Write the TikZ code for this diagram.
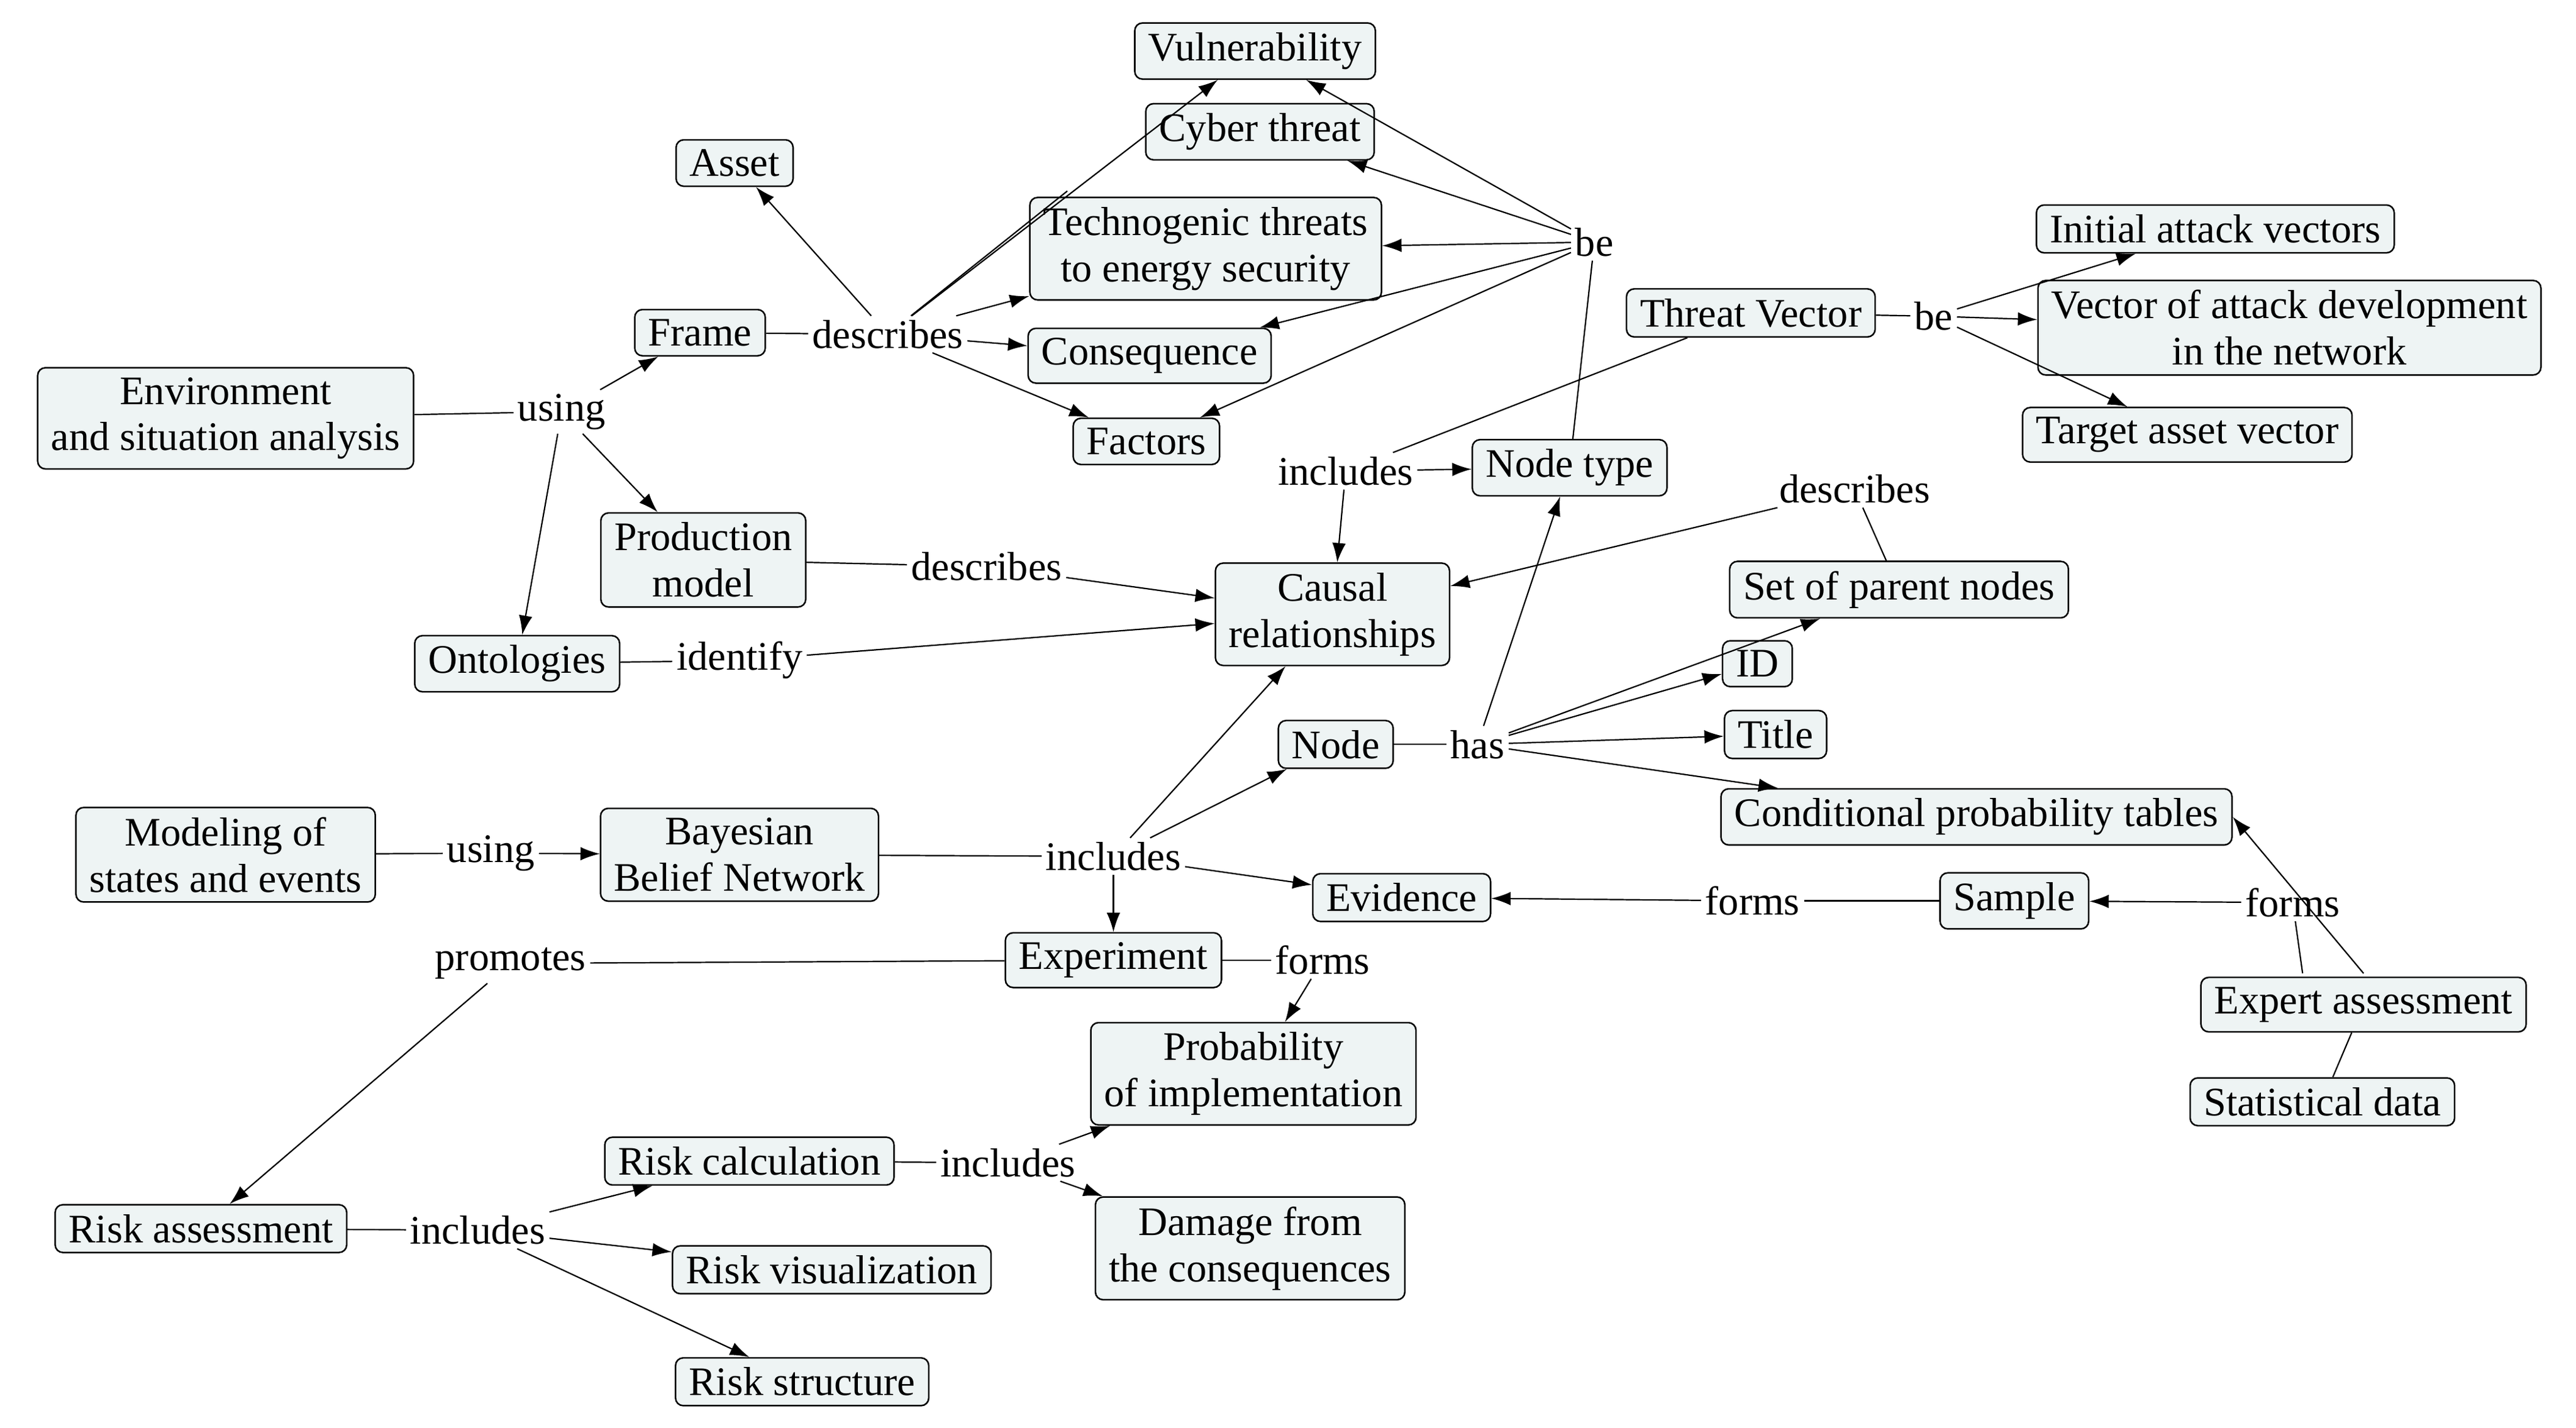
\documentclass[tikz,border=0pt]{standalone}
\usepackage{fontspec}
\setmainfont{Liberation Serif}
\usetikzlibrary{arrows.meta}
\definecolor{boxfill}{HTML}{EEF4F4}
\begin{document}
\begin{tikzpicture}[x=0.03cm,y=-0.03cm,
  font=\fontsize{21}{24}\selectfont,
  box/.style={draw,rounded corners=4pt,fill=boxfill,align=center,inner xsep=7pt,inner ysep=5pt,line width=0.8pt},
  lbl/.style={inner sep=2pt},
  ar/.style={-{Latex[length=10pt,width=7pt]},line width=0.7pt},
  ln/.style={line width=0.7pt}]
\useasboundingbox (0,0) rectangle (1564,867);
\node[box] (vul) at (762,31) {Vulnerability};
\node[box] (cyb) at (765,80) {Cyber threat};
\node[box] (asset) at (446,99) {Asset};
\node[box] (tech) at (732,151) {Technogenic threats\\to energy security};
\node[box] (init) at (1345,139) {Initial attack vectors};
\node[box] (tv) at (1063,190) {Threat Vector};
\node[box] (vdev) at (1390,199) {Vector of attack development\\in the network};
\node[box] (frame) at (425,202) {Frame};
\node[box] (cons) at (698,216) {Consequence};
\node[box] (env) at (137,254) {Environment\\and situation analysis};
\node[box] (fact) at (696,268) {Factors};
\node[box] (tav) at (1328,264) {Target asset vector};
\node[box] (ntype) at (953,284) {Node type};
\node[box] (prod) at (427,340) {Production\\model};
\node[box] (causal) at (809,373) {Causal\\relationships};
\node[box] (spn) at (1153,358) {Set of parent nodes};
\node[box] (onto) at (314,403) {Ontologies};
\node[box] (id) at (1067,403) {ID};
\node[box] (node) at (811,452) {Node};
\node[box] (title) at (1078,446) {Title};
\node[box] (model) at (137,519) {Modeling of\\states and events};
\node[box] (bbn) at (449,519) {Bayesian\\Belief Network};
\node[box] (cpt) at (1200,496) {Conditional probability tables};
\node[box] (evid) at (851,545) {Evidence};
\node[box] (sample) at (1223,547) {Sample};
\node[box] (exper) at (676,583) {Experiment};
\node[box] (expert) at (1435,610) {Expert assessment};
\node[box] (prob) at (761,652) {Probability\\of implementation};
\node[box] (stat) at (1410,669) {Statistical data};
\node[box] (rcalc) at (455,705) {Risk calculation};
\node[box] (rass) at (122,746) {Risk assessment};
\node[box] (dmg) at (759,758) {Damage from\\the consequences};
\node[box] (rvis) at (505,771) {Risk visualization};
\node[box] (rstr) at (487,839) {Risk structure};
% labels
\node[lbl] (be1) at (968,147) {be};
\node[lbl] (be2) at (1174,192) {be};
\node[lbl] (des1) at (539,203) {describes};
\node[lbl] (use1) at (341,250) {using};
\node[lbl] (inc1) at (817,286) {includes};
\node[lbl] (des2) at (1126,297) {describes};
\node[lbl] (des3) at (599,344) {describes};
\node[lbl] (ident) at (449,401) {identify};
\node[lbl] (has) at (897,452) {has};
\node[lbl] (use2) at (298,518) {using};
\node[lbl] (inc2) at (676,520) {includes};
\node[lbl] (frm1) at (1064,547) {forms};
\node[lbl] (frm2) at (1392,548) {forms};
\node[lbl] (prom) at (310,585) {promotes};
\node[lbl] (frm3) at (803,583) {forms};
\node[lbl] (inc3) at (612,706) {includes};
\node[lbl] (inc4) at (290,747) {includes};
% edges
\begin{scope}[on background layer/.style={}]
\draw[ln] (frame) -- (des1);
\draw[ar] (des1) -- (asset);
\draw[ar] (des1) -- (vul);
\draw[ln] (des1) -- (648,116);
\draw[ar] (des1) -- (tech);
\draw[ar] (des1) -- (cons);
\draw[ar] (des1) -- (fact);
\draw[ar] (be1) -- (vul);
\draw[ar] (be1) -- (cyb);
\draw[ar] (be1) -- (tech);
\draw[ar] (be1) -- (cons);
\draw[ar] (be1) -- (fact);
\draw[ln] (be1) -- (ntype);
\draw[ln] (env) -- (use1);
\draw[ar] (use1) -- (frame);
\draw[ar] (use1) -- (prod);
\draw[ar] (use1) -- (onto);
\draw[ln] (tv) -- (be2);
\draw[ar] (be2) -- (init);
\draw[ar] (be2) -- (vdev);
\draw[ar] (be2) -- (tav);
\draw[ln] (tv) -- (inc1);
\draw[ar] (inc1) -- (ntype);
\draw[ar] (inc1) -- (causal);
\draw[ln] (prod) -- (des3);
\draw[ar] (des3) -- (causal);
\draw[ln] (onto) -- (ident);
\draw[ar] (ident) -- (causal);
\draw[ln] (spn) -- (des2);
\draw[ar] (des2) -- (causal);
\draw[ln] (node) -- (has);
\draw[ar] (has) -- (ntype);
\draw[ar] (has) -- (spn);
\draw[ar] (has) -- (id);
\draw[ar] (has) -- (title);
\draw[ar] (has) -- (cpt);
\draw[ln] (model) -- (use2);
\draw[ar] (use2) -- (bbn);
\draw[ln] (bbn) -- (inc2);
\draw[ar] (inc2) -- (node);
\draw[ar] (inc2) -- (causal);
\draw[ar] (inc2) -- (evid);
\draw[ar] (inc2) -- (exper);
\draw[ln] (sample) -- (frm1);
\draw[ar] (frm1) -- (evid);
\draw[ln] (1398,591) -- (frm2);
\draw[ar] (frm2) -- (sample);
\draw[ar] (1435,591) -- (cpt.east);
\draw[ln] (stat) -- (expert);
\draw[ln] (exper) -- (prom);
\draw[ar] (prom) -- (rass);
\draw[ln] (exper) -- (frm3);
\draw[ar] (frm3) -- (prob);
\draw[ln] (rass) -- (inc4);
\draw[ar] (inc4) -- (rcalc);
\draw[ar] (inc4) -- (rvis);
\draw[ar] (inc4) -- (rstr);
\draw[ln] (rcalc) -- (inc3);
\draw[ar] (inc3) -- (prob);
\draw[ar] (inc3) -- (dmg);
\end{scope}
\end{tikzpicture}
\end{document}
